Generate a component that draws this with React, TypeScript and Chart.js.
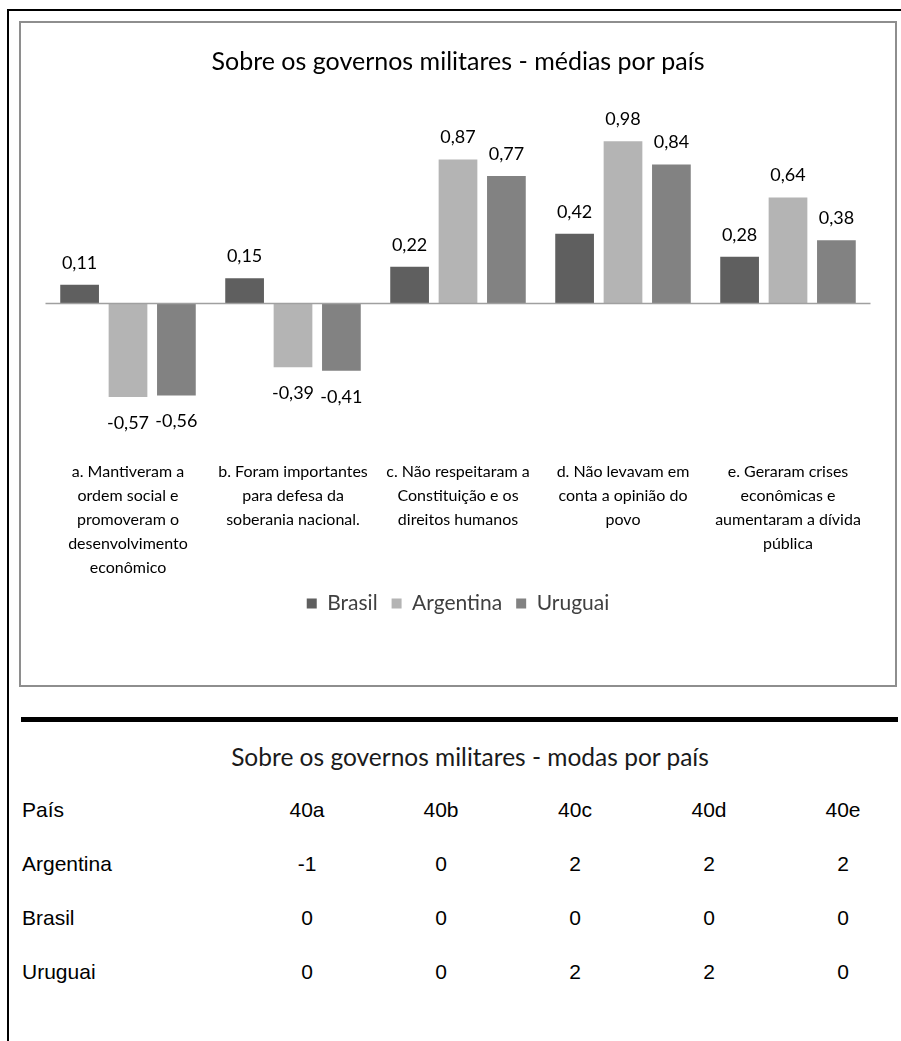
import { useEffect, useRef } from "react";
import { Chart, registerables } from "chart.js";

Chart.register(...registerables);

// Category labels (multi-line), one per statement
const categories: string[][] = [
  ["a. Mantiveram a", "ordem social e", "promoveram o", "desenvolvimento", "econômico"],
  ["b. Foram importantes", "para defesa da", "soberania nacional."],
  ["c. Não respeitaram a", "Constituição e os", "direitos humanos"],
  ["d. Não levavam em", "conta a opinião do", "povo"],
  ["e. Geraram crises", "econômicas e", "aumentaram a dívida", "pública"],
];

// Mean values per country
const brasil = [0.11, 0.15, 0.22, 0.42, 0.28];
const argentina = [-0.57, -0.39, 0.87, 0.98, 0.64];
const uruguai = [-0.56, -0.41, 0.77, 0.84, 0.38];

const chartTitle = "Sobre os governos militares - médias por país";

// Mode table
const tableTitle = "Sobre os governos militares - modas por país";
const tableHeader = ["País", "40a", "40b", "40c", "40d", "40e"];
const modaRows: [string, number[]][] = [
  ["Argentina", [-1, 0, 2, 2, 2]],
  ["Brasil", [0, 0, 0, 0, 0]],
  ["Uruguai", [0, 0, 2, 2, 0]],
];

const COLORS = { brasil: "#5f5f5f", argentina: "#b4b4b4", uruguai: "#828282" };

const fmt = (v: number) => v.toFixed(2).replace(".", ",");

// Horizontal axis line through zero
const zeroLine = {
  id: "zeroLine",
  afterDatasetsDraw(chart: any) {
    const { ctx, chartArea, scales } = chart;
    const y = Math.round(scales.y.getPixelForValue(0)) + 0.5;
    ctx.save();
    ctx.strokeStyle = "#a0a0a0";
    ctx.lineWidth = 1.5;
    ctx.beginPath();
    ctx.moveTo(chartArea.left, y);
    ctx.lineTo(chartArea.right, y);
    ctx.stroke();
    ctx.restore();
  },
};

// Value labels above positive bars and below negative ones
const valueLabels = {
  id: "valueLabels",
  afterDatasetsDraw(chart: any) {
    const ctx = chart.ctx;
    ctx.save();
    ctx.font = "18px Lato";
    ctx.fillStyle = "#000";
    ctx.textAlign = "center";
    ctx.textBaseline = "alphabetic";
    chart.data.datasets.forEach((ds: any, i: number) => {
      chart.getDatasetMeta(i).data.forEach((bar: any, j: number) => {
        const v = ds.data[j] as number;
        if (v >= 0) ctx.fillText(fmt(v), bar.x, bar.y - 16);
        else ctx.fillText(fmt(v), bar.x, bar.y + 32);
      });
    });
    ctx.restore();
  },
};

function MeansChart() {
  const ref = useRef<HTMLCanvasElement | null>(null);
  useEffect(() => {
    if (!ref.current) return;
    const chart = new Chart(ref.current, {
      type: "bar",
      data: {
        labels: categories,
        datasets: [
          { label: "Brasil", data: brasil, backgroundColor: COLORS.brasil },
          { label: "Argentina", data: argentina, backgroundColor: COLORS.argentina },
          { label: "Uruguai", data: uruguai, backgroundColor: COLORS.uruguai },
        ],
      },
      options: {
        animation: false,
        responsive: false,
        devicePixelRatio: 1,
        datasets: { bar: { barPercentage: 0.8, categoryPercentage: 0.88 } },
        layout: { padding: { top: 0, left: 24.5, right: 24.5, bottom: 61 } },
        plugins: {
          title: {
            display: true,
            text: chartTitle,
            color: "#000",
            font: { family: "Lato", size: 25, weight: "normal", lineHeight: 1.2 },
            padding: { top: 24, bottom: 44.5 },
          },
          legend: {
            position: "bottom",
            labels: {
              boxWidth: 10,
              boxHeight: 10,
              color: "#404040",
              font: { family: "Lato", size: 21 },
              padding: 14,
            },
          },
          tooltip: { enabled: false },
        },
        scales: {
          x: {
            grid: { display: false, drawTicks: false },
            border: { display: false },
            ticks: {
              color: "#000",
              font: { family: "Lato", size: 16, lineHeight: 1.5 },
              padding: 25,
              maxRotation: 0,
              autoSkip: false,
            },
            afterFit(s: any) {
              s.height = 144;
            },
          },
          y: { display: false, min: -0.8, max: 1.1 },
        },
      },
      plugins: [zeroLine, valueLabels],
    } as any);
    return () => chart.destroy();
  }, []);
  return <canvas ref={ref} width={874} height={662} style={{ display: "block" }} />;
}

const colCenters = [307, 441, 575, 709, 843];

function ModeTable() {
  const cell = (text: string, left: number, top: number, align: "left" | "center", key: string) => (
    <div
      key={key}
      style={{
        position: "absolute",
        left: align === "left" ? left : left - 50,
        width: align === "left" ? 200 : 100,
        top,
        textAlign: align,
        fontFamily: "'Liberation Sans', Arial, sans-serif",
        fontSize: 21,
        lineHeight: "24px",
        color: "#000",
      }}
    >
      {text}
    </div>
  );
  const rowTops = [798, 852, 906, 960];
  const out: any[] = [];
  tableHeader.forEach((h, c) =>
    out.push(cell(h, c === 0 ? 22 : colCenters[c - 1], rowTops[0], c === 0 ? "left" : "center", `h${c}`))
  );
  modaRows.forEach(([name, vals], r) => {
    out.push(cell(name, 22, rowTops[r + 1], "left", `n${r}`));
    vals.forEach((v, c) => out.push(cell(String(v), colCenters[c], rowTops[r + 1], "center", `v${r}${c}`)));
  });
  return <>{out}</>;
}

export default function App() {
  return (
    <div style={{ position: "absolute", left: 0, top: 0, width: 901, height: 1041, background: "#fff", overflow: "hidden" }}>
      {/* outer frame */}
      <div style={{ position: "absolute", left: 7, top: 9, width: 894, height: 2, background: "#000" }} />
      <div style={{ position: "absolute", left: 7, top: 9, width: 2, height: 1032, background: "#000" }} />
      {/* chart box */}
      <div
        style={{
          position: "absolute",
          left: 19,
          top: 21,
          width: 878,
          height: 666,
          border: "2px solid #8e8e8e",
          boxSizing: "border-box",
          background: "#fff",
        }}
      >
        <MeansChart />
      </div>
      {/* separator */}
      <div style={{ position: "absolute", left: 21, top: 717, width: 877, height: 5, background: "#000" }} />
      <div
        style={{
          position: "absolute",
          left: 0,
          width: 940,
          top: 742,
          textAlign: "center",
          fontFamily: "Lato, sans-serif",
          fontSize: 24.5,
          lineHeight: "30px",
          color: "#1a1a1a",
        }}
      >
        {tableTitle}
      </div>
      <ModeTable />
    </div>
  );
}
